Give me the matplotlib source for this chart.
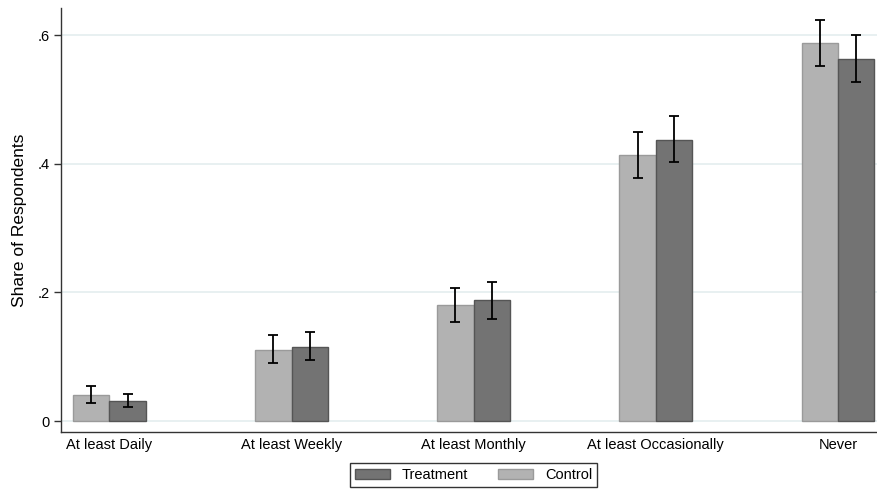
import matplotlib
matplotlib.use("Agg")
import matplotlib.pyplot as plt
import numpy as np
from matplotlib.patches import Patch

plt.rcParams['font.family'] = ['Liberation Sans', 'DejaVu Sans']

categories = ["At least Daily", "At least Weekly", "At least Monthly", "At least Occasionally", "Never"]
control = [0.041, 0.111, 0.180, 0.413, 0.587]
control_lo = [0.028, 0.091, 0.154, 0.378, 0.552]
control_hi = [0.055, 0.134, 0.207, 0.449, 0.623]
treatment = [0.031, 0.1155, 0.188, 0.437, 0.563]
treatment_lo = [0.022, 0.095, 0.159, 0.402, 0.527]
treatment_hi = [0.042, 0.138, 0.216, 0.474, 0.600]
yticks = [0, 0.2, 0.4, 0.6]
yticklabels = ["0", ".2", ".4", ".6"]

fig = plt.figure(figsize=(8.78, 4.91), dpi=100)
ax = fig.add_axes([61/878, 1-432/491, 817/878, (432-8)/491])

x = np.arange(len(categories))
w = 0.2
c_col, c_edge = "#b2b2b2", "#9a9a9a"
t_col, t_edge = "#737373", "#555555"

ax.bar(x - w/2, control, width=w, color=c_col, edgecolor=c_edge, linewidth=1, zorder=2)
ax.bar(x + w/2, treatment, width=w, color=t_col, edgecolor=t_edge, linewidth=1, zorder=2)

c = np.array(control); t = np.array(treatment)
ax.errorbar(x - w/2, c, yerr=[c - np.array(control_lo), np.array(control_hi) - c],
            fmt='none', ecolor='black', elinewidth=1.3, capsize=3.3, capthick=1.3, zorder=3)
ax.errorbar(x + w/2, t, yerr=[t - np.array(treatment_lo), np.array(treatment_hi) - t],
            fmt='none', ecolor='black', elinewidth=1.3, capsize=3.3, capthick=1.3, zorder=3)

ax.set_xlim(-0.266, 4.22)
ax.set_ylim(-0.017, 0.642)
ax.set_yticks(yticks)
ax.set_yticklabels(yticklabels, fontsize=10.5)
ax.set_xticks(x)
ax.set_xticklabels(categories, fontsize=10.5)
ax.tick_params(axis='x', length=0, pad=4)
ax.tick_params(axis='y', length=5, width=1, color='#333333', pad=3)
ax.yaxis.grid(True, color='#e8f0f1', linewidth=1.4, zorder=0)
ax.set_axisbelow(True)
for s in ['top', 'right']:
    ax.spines[s].set_visible(False)
for s in ['left', 'bottom']:
    ax.spines[s].set_color('#333333')
    ax.spines[s].set_linewidth(1)

ax.set_ylabel("Share of Respondents", fontsize=12.5, labelpad=8)

handles = [Patch(facecolor=t_col, edgecolor=t_edge), Patch(facecolor=c_col, edgecolor=c_edge)]
leg = fig.legend(handles, ["Treatment", "Control"], loc='upper center',
                 bbox_to_anchor=(473.5/878, 1-463/491), ncol=2, fontsize=10.5,
                 frameon=True, fancybox=False, handlelength=2.45, handleheight=0.63,
                 handletextpad=0.8, columnspacing=2.0, borderpad=0.35, borderaxespad=0)
leg.get_frame().set_edgecolor('black')
leg.get_frame().set_linewidth(1)

fig.savefig("out.png", dpi=100)
